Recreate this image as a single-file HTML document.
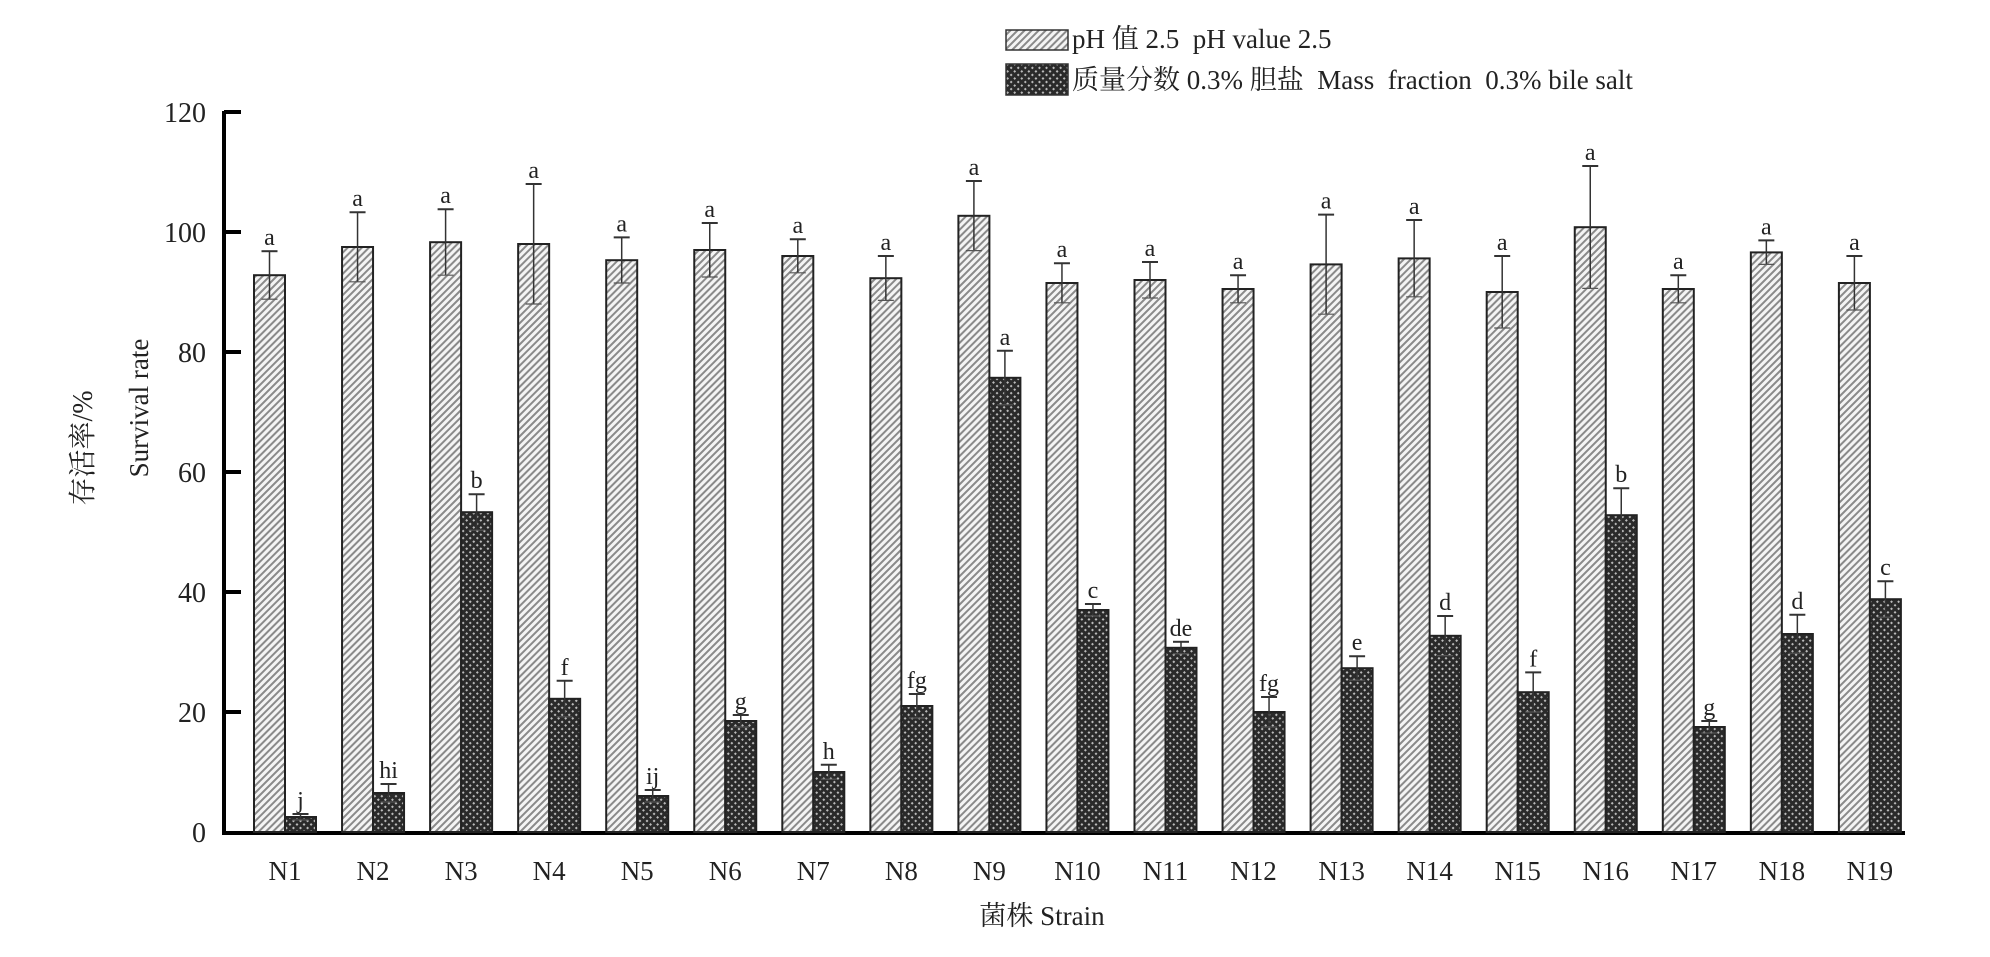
<!DOCTYPE html>
<html><head><meta charset="utf-8">
<style>
html,body{margin:0;padding:0;background:#fff;}
svg text{font-family:"Liberation Serif","Noto Serif CJK SC","Noto Sans CJK SC",serif;fill:#222;}
</style></head>
<body>
<svg id="c" width="1990" height="952" xmlns="http://www.w3.org/2000/svg">
<defs>
<pattern id="lt" width="5" height="5" patternUnits="userSpaceOnUse" patternTransform="rotate(45)">
<rect width="5" height="5" fill="#f4f4f4"/>
<rect x="0" y="0" width="2" height="5" fill="#8a8a8a"/>
</pattern>
<pattern id="dk" width="5" height="5" patternUnits="userSpaceOnUse" patternTransform="rotate(45)">
<rect width="5" height="5" fill="#2a2a2a"/>
<rect x="2" y="2" width="2" height="2" fill="#bbb"/>
</pattern>
</defs>
<!-- legend -->
<rect x="1006" y="30" width="62" height="20" fill="url(#lt)" stroke="#333" stroke-width="1.5"/>
<text x="1072" y="48" font-size="27" xml:space="preserve">pH 值 2.5  pH value 2.5</text>
<rect x="1006" y="64" width="62" height="31" fill="url(#dk)" stroke="#333" stroke-width="1.5"/>
<text x="1072" y="89" font-size="27" xml:space="preserve">质量分数 0.3% 胆盐  Mass  fraction  0.3% bile salt</text>
<!-- axes -->
<line x1="224" y1="111" x2="224" y2="834" stroke="#000" stroke-width="4"/>
<line x1="222" y1="833" x2="1905" y2="833" stroke="#000" stroke-width="4"/>
<g id="ticks"></g>
<g id="bars"></g>
<text x="1042" y="925" font-size="27" text-anchor="middle">菌株 Strain</text>
<text transform="translate(92,448) rotate(-90)" font-size="28" text-anchor="middle">存活率/%</text>
<text transform="translate(148,408) rotate(-90)" font-size="27" text-anchor="middle">Survival rate</text>
</svg>
<script>
var NS="http://www.w3.org/2000/svg",svg=document.getElementById('c');
function el(t,a,txt,p){var e=document.createElementNS(NS,t);for(var k in a)e.setAttribute(k,a[k]);if(txt!=null)e.textContent=txt;(p||svg).appendChild(e);return e;}
function Y(v){return 832-6*v;}
var tk=document.getElementById('ticks');
for(var v=0;v<=120;v+=20){var y=Y(v);if(v>0)el('line',{x1:224,y1:y,x2:241,y2:y,stroke:'#000','stroke-width':4},null,tk);
el('text',{x:206,y:y+10,'font-size':28,'text-anchor':'end'},String(v),tk);}
var L=[[92.8,4],[97.5,5.8],[98.3,5.5],[98,10],[95.3,3.8],[97,4.5],[96,2.8],[92.3,3.7],[102.7,5.8],[91.5,3.3],[92,3],[90.5,2.3],[94.6,8.3],[95.6,6.4],[90,6],[100.8,10.2],[90.5,2.3],[96.6,2],[91.5,4.5]];
var D=[[2.5,0.5,'j'],[6.5,1.5,'hi'],[53.3,3,'b'],[22.2,3,'f'],[6,1,'ij'],[18.5,1,'g'],[10,1.2,'h'],[21,2,'fg'],[75.7,4.5,'a'],[37,1,'c'],[30.7,1,'de'],[20,2.5,'fg'],[27.3,2,'e'],[32.7,3.3,'d'],[23.3,3.3,'f'],[52.8,4.5,'b'],[17.5,1,'g'],[33,3.2,'d'],[38.8,3,'c']];
var g=document.getElementById('bars');
function bar(x,v,sd,lab,fill){
 var y=Y(v);
 el('rect',{x:x,y:y,width:31,height:832-y,fill:fill,stroke:'#222','stroke-width':2},null,g);
 var cx=x+15.5,t=Y(v+sd),b=Y(Math.max(0,v-sd));
 el('line',{x1:cx,y1:t,x2:cx,y2:b,stroke:'#333','stroke-width':1.5},null,g);
 el('line',{x1:cx-8,y1:t,x2:cx+8,y2:t,stroke:'#333','stroke-width':2},null,g);
 el('line',{x1:cx-8,y1:b,x2:cx+8,y2:b,stroke:'#555','stroke-width':1.2},null,g);
 el('text',{x:cx,y:t-6,'font-size':24,'text-anchor':'middle'},lab,g);
}
for(var i=0;i<19;i++){
 var c=285+88.05*i;
 bar(c-31,L[i][0],L[i][1],'a','url(#lt)');
 bar(c,D[i][0],D[i][1],D[i][2],'url(#dk)');
 el('text',{x:c,y:880,'font-size':27,'text-anchor':'middle'},'N'+(i+1),g);
}
</script>
</body></html>
